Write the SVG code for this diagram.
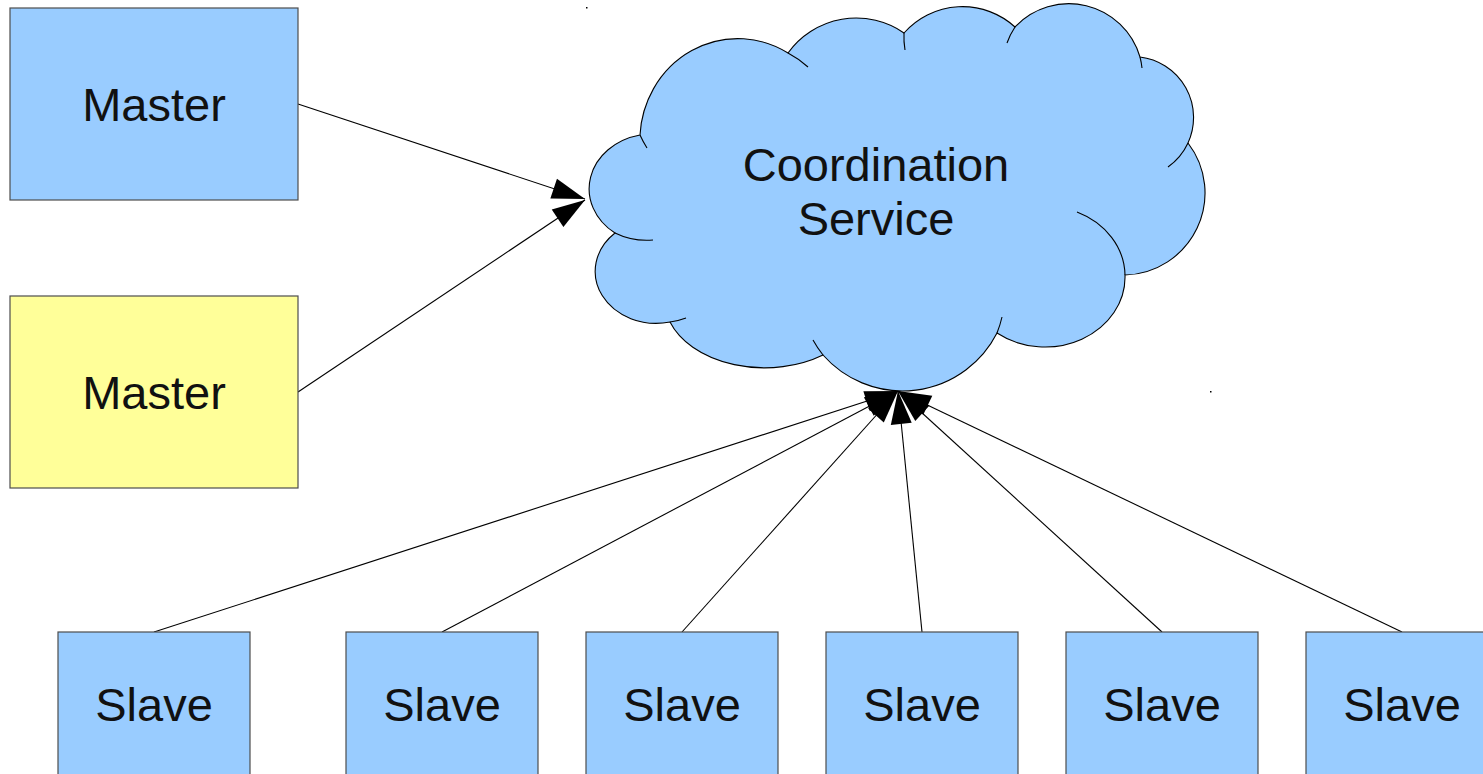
<svg xmlns="http://www.w3.org/2000/svg" width="1483" height="774" viewBox="0 0 1483 774">
  <style>
    .box { stroke: #4d4d4d; stroke-width: 1.2; }
    .blue { fill: #99ccff; }
    .yellow { fill: #ffff99; }
    .label { font-family: "Liberation Sans", Arial, sans-serif; font-size: 47px; fill: #111111; text-anchor: middle; }
    .edge { stroke: #000000; stroke-width: 1.1; fill: none; marker-end: url(#arrow); }
    .tail { fill: none; stroke: #000000; stroke-width: 1.1; }
  </style>
  <defs>
    <marker id="arrow" markerUnits="userSpaceOnUse" markerWidth="34" markerHeight="22" refX="33" refY="10.5" orient="auto" overflow="visible">
      <path d="M0 0 L33 10.5 L0 21 Z" fill="#000000"/>
    </marker>
  </defs>

  <rect width="1483" height="774" fill="#ffffff"/>

  <!-- connectors -->
  <g id="connectors">
    <line class="edge" x1="298" y1="104" x2="585" y2="199"/>
    <line class="edge" x1="298" y1="392" x2="585" y2="200"/>
    <line class="edge" x1="154" y1="632" x2="898" y2="391"/>
    <line class="edge" x1="442" y1="632" x2="898" y2="391"/>
    <line class="edge" x1="682" y1="632" x2="898" y2="391"/>
    <line class="edge" x1="922" y1="632" x2="898" y2="391"/>
    <line class="edge" x1="1162" y1="632" x2="898" y2="391"/>
    <line class="edge" x1="1402" y1="632" x2="898" y2="391"/>
  </g>

  <!-- coordination service cloud -->
  <g id="coordination">
    <path class="blue" stroke="#000000" stroke-width="1.1"
      d="M640 135
         A98 102 0 0 1 788 53
         A84 84 0 0 1 904 33
         A78 78 0 0 1 1015 27
         A74 74 0 0 1 1140 57
         A61 61 0 0 1 1188 143
         A82 82 0 0 1 1125 275
         A80 70 0 0 1 997 333
         A106 106 0 0 1 823 355
         A100 68 0 0 1 670 322
         A61 52 0 0 1 615 233
         A64 55 0 0 1 640 135 Z"/>
    <path class="tail" d="M640 135 A98 102 0 0 0 647 148"/>
    <path class="tail" d="M788 53 A98 102 0 0 1 808 67"/>
    <path class="tail" d="M905 50 A78 78 0 0 1 904 33"/>
    <path class="tail" d="M1007 43 A74 74 0 0 1 1015 27"/>
    <path class="tail" d="M1140 57 A74 74 0 0 1 1142 68"/>
    <path class="tail" d="M1188 143 A61 61 0 0 1 1168 167"/>
    <path class="tail" d="M1077 212 A80 70 0 0 1 1125 275"/>
    <path class="tail" d="M1002 317 A106 106 0 0 1 997 333"/>
    <path class="tail" d="M823 355 A106 106 0 0 1 813 340"/>
    <path class="tail" d="M686 318 A61 52 0 0 1 670 322"/>
    <path class="tail" d="M653 240 A64 55 0 0 1 615 233"/>
    <text class="label" x="876" y="181">Coordination</text>
    <text class="label" x="876" y="235">Service</text>
  </g>

  <!-- masters -->
  <g id="master-active">
    <rect class="box blue" x="10" y="8" width="288" height="192"/>
    <text class="label" x="154" y="121">Master</text>
  </g>
  <g id="master-standby">
    <rect class="box yellow" x="10" y="296" width="288" height="192"/>
    <text class="label" x="154" y="409">Master</text>
  </g>

  <!-- slaves -->
  <g id="slave-1">
    <rect class="box blue" x="58" y="632" width="192" height="160"/>
    <text class="label" x="154" y="721">Slave</text>
  </g>
  <g id="slave-2">
    <rect class="box blue" x="346" y="632" width="192" height="160"/>
    <text class="label" x="442" y="721">Slave</text>
  </g>
  <g id="slave-3">
    <rect class="box blue" x="586" y="632" width="192" height="160"/>
    <text class="label" x="682" y="721">Slave</text>
  </g>
  <g id="slave-4">
    <rect class="box blue" x="826" y="632" width="192" height="160"/>
    <text class="label" x="922" y="721">Slave</text>
  </g>
  <g id="slave-5">
    <rect class="box blue" x="1066" y="632" width="192" height="160"/>
    <text class="label" x="1162" y="721">Slave</text>
  </g>
  <g id="slave-6">
    <rect class="box blue" x="1306" y="632" width="192" height="160"/>
    <text class="label" x="1402" y="721">Slave</text>
  </g>

  <!-- stray page marks -->
  <rect x="586" y="7" width="1.5" height="1.5" fill="#000000"/>
  <rect x="1210" y="391" width="1.5" height="1.5" fill="#000000"/>
</svg>
